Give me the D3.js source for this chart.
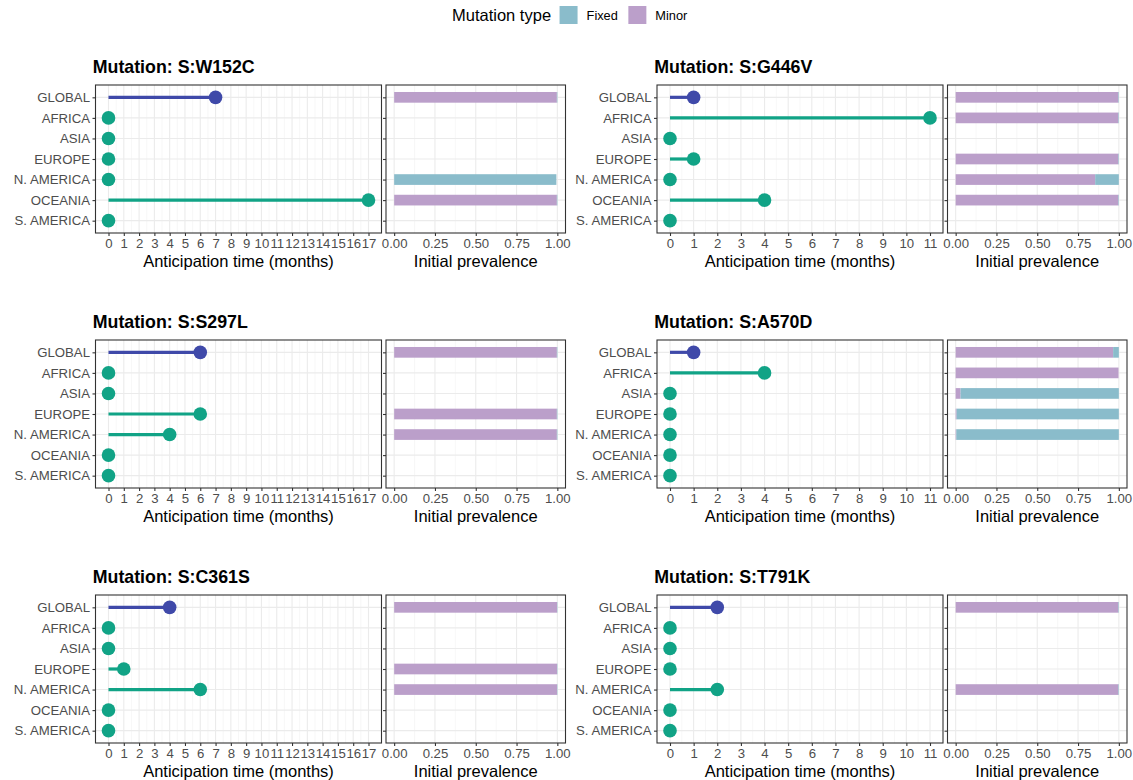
<!DOCTYPE html>
<html>
<head>
<meta charset="utf-8">
<script src="https://cdn.jsdelivr.net/npm/d3@7"></script>
<style>
  body { margin: 0; background: #fff; }
  svg { font-family: "Liberation Sans", Arial, sans-serif; }
</style>
</head>
<body>
<div id="chart"></div>
<script>
// Regions (y categories), top to bottom
const regions = ["GLOBAL", "AFRICA", "ASIA", "EUROPE", "N. AMERICA", "OCEANIA", "S. AMERICA"];

// Mutations in panel order (row by row, left then right)
const mutations = ["S:W152C", "S:G446V", "S:S297L", "S:A570D", "S:C361S", "S:T791K"];

// Anticipation time (months) per region, same order as regions
const antW152C = [7, 0, 0, 0, 0, 17, 0];
const antG446V = [1, 11, 0, 1, 0, 4, 0];
const antS297L = [6, 0, 0, 6, 4, 0, 0];
const antA570D = [1, 4, 0, 0, 0, 0, 0];
const antC361S = [4, 0, 0, 1, 6, 0, 0];
const antT791K = [2, 0, 0, 0, 2, 0, 0];

// Initial prevalence, Minor share per region (null = no bar)
const minorW152C = [0.997, null, null, null, 0, 0.997, null];
const minorG446V = [0.997, 0.997, null, 0.997, 0.855, 0.997, null];
const minorS297L = [0.997, null, null, 0.997, 0.997, null, null];
const minorA570D = [0.965, 0.998, 0.03, 0.006, 0.004, null, null];
const minorC361S = [0.998, null, null, 0.998, 0.998, null, null];
const minorT791K = [0.997, null, null, null, 0.997, null, null];

// Initial prevalence, Fixed share per region
const fixedW152C = [0.003, null, null, null, 0.994, 0.003, null];
const fixedG446V = [0.003, 0.003, null, 0.003, 0.145, 0.003, null];
const fixedS297L = [0.003, null, null, 0.003, 0.003, null, null];
const fixedA570D = [0.035, 0, 0.97, 0.994, 0.996, null, null];
const fixedC361S = [0.002, null, null, 0.002, 0.002, null, null];
const fixedT791K = [0.003, null, null, null, 0.003, null, null];

// x-axis max per column
const columnMax = [17, 11];
const prevalenceTicks = [0, 0.25, 0.5, 0.75, 1];

const antData = [antW152C, antG446V, antS297L, antA570D, antC361S, antT791K];
const minorData = [minorW152C, minorG446V, minorS297L, minorA570D, minorC361S, minorT791K];
const fixedData = [fixedW152C, fixedG446V, fixedS297L, fixedA570D, fixedC361S, fixedT791K];

const typeColors = {Fixed: "#8abccb", Minor: "#bb9fca"};
const globalColor = "#3f49a9";
const regionColor = "#11a386";

const width = 1133, height = 780;
const tickFont = 13.2;

const svg = d3.select("#chart").append("svg")
    .attr("width", width)
    .attr("height", height);

// Legend
const legend = svg.append("g");
const legTitle = legend.append("text")
    .attr("x", 452).attr("y", 20.5)
    .attr("font-size", 16.5).attr("fill", "#000")
    .text("Mutation type");
let lx = 452 + legTitle.node().getComputedTextLength() + 8.5;
["Fixed", "Minor"].forEach(k => {
    legend.append("rect")
        .attr("x", lx).attr("y", 6).attr("width", 18).attr("height", 18)
        .attr("fill", typeColors[k]);
    const t = legend.append("text")
        .attr("x", lx + 27).attr("y", 19.8)
        .attr("font-size", 12.8).attr("fill", "#000")
        .text(k);
    lx += 27 + t.node().getComputedTextLength() + 10.5;
});

// Panel geometry
const colLeft = [95.5, 657];
const dotW = 286, barW = 179.5, gap = 4.5;
const rowTop = [85, 340, 595];
const panelH = 148;

function styleAxis(a) {
    a.select(".domain").remove();
    a.selectAll(".tick line").attr("stroke", "#333").attr("stroke-width", 1.1);
    a.selectAll("text").attr("fill", "#4d4d4d").attr("font-size", tickFont)
        .attr("font-family", "Liberation Sans, Arial, sans-serif");
}

function drawPanel(i) {
    const col = i % 2, row = Math.floor(i / 2);
    const x0 = colLeft[col], y0 = rowTop[row];
    const max = columnMax[col];

    const g = svg.append("g").attr("transform", `translate(${x0},${y0})`);

    // Title
    g.append("text")
        .attr("x", -2.8).attr("y", -11.7)
        .attr("font-size", 17.8).attr("font-weight", "bold").attr("fill", "#000")
        .text("Mutation: " + mutations[i]);

    const y = d3.scalePoint().domain(regions).range([0, panelH]).padding(0.6);

    // ---------- Lollipop panel ----------
    const x = d3.scaleLinear().domain([-max * 0.05, max * 1.05]).range([0, dotW]);
    const dot = g.append("g");

    dot.selectAll(".minor").data(d3.range(0.5, max, 1)).join("line")
        .attr("x1", d => x(d)).attr("x2", d => x(d))
        .attr("y1", 0).attr("y2", panelH)
        .attr("stroke", "#f0f0f0").attr("stroke-width", 0.55);
    dot.selectAll(".majorx").data(d3.range(0, max + 1)).join("line")
        .attr("x1", d => x(d)).attr("x2", d => x(d))
        .attr("y1", 0).attr("y2", panelH)
        .attr("stroke", "#ebebeb").attr("stroke-width", 1.1);
    dot.selectAll(".majory").data(regions).join("line")
        .attr("x1", 0).attr("x2", dotW)
        .attr("y1", d => y(d)).attr("y2", d => y(d))
        .attr("stroke", "#ebebeb").attr("stroke-width", 1.1);

    const pts = regions.map((r, j) => ({region: r, value: antData[i][j]}));
    dot.selectAll(".seg").data(pts).join("line")
        .attr("x1", x(0)).attr("x2", d => x(d.value))
        .attr("y1", d => y(d.region)).attr("y2", d => y(d.region))
        .attr("stroke", d => d.region === "GLOBAL" ? globalColor : regionColor)
        .attr("stroke-width", 3.2);
    dot.selectAll(".pt").data(pts).join("circle")
        .attr("cx", d => x(d.value)).attr("cy", d => y(d.region))
        .attr("r", 6.8)
        .attr("fill", d => d.region === "GLOBAL" ? globalColor : regionColor);

    dot.append("rect")
        .attr("x", 0).attr("y", 0).attr("width", dotW).attr("height", panelH)
        .attr("fill", "none").attr("stroke", "#333").attr("stroke-width", 1.1);

    const xAxis = d3.axisBottom(x).tickValues(d3.range(0, max + 1))
        .tickSize(3).tickPadding(2.5).tickFormat(d3.format("d"));
    styleAxis(dot.append("g").attr("transform", `translate(0,${panelH})`).call(xAxis));
    styleAxis(dot.append("g").call(d3.axisLeft(y).tickSize(3).tickPadding(2.5)));

    dot.append("text")
        .attr("x", dotW / 2).attr("y", panelH + 33.5)
        .attr("text-anchor", "middle").attr("font-size", 16.5).attr("fill", "#000")
        .text("Anticipation time (months)");

    // ---------- Prevalence panel ----------
    const bx = d3.scaleLinear().domain([-0.05, 1.05]).range([0, barW]);
    const bar = g.append("g").attr("transform", `translate(${dotW + gap},0)`);

    bar.selectAll(".minor").data([0.125, 0.375, 0.625, 0.875]).join("line")
        .attr("x1", d => bx(d)).attr("x2", d => bx(d))
        .attr("y1", 0).attr("y2", panelH)
        .attr("stroke", "#f0f0f0").attr("stroke-width", 0.55);
    bar.selectAll(".majorx").data(prevalenceTicks).join("line")
        .attr("x1", d => bx(d)).attr("x2", d => bx(d))
        .attr("y1", 0).attr("y2", panelH)
        .attr("stroke", "#ebebeb").attr("stroke-width", 1.1);
    bar.selectAll(".majory").data(regions).join("line")
        .attr("x1", 0).attr("x2", barW)
        .attr("y1", d => y(d)).attr("y2", d => y(d))
        .attr("stroke", "#ebebeb").attr("stroke-width", 1.1);

    // stacked: Minor from zero, Fixed after it
    const bh = y.step() * 0.52;
    const segs = [];
    regions.forEach((r, j) => {
        const m = minorData[i][j], f = fixedData[i][j];
        if (m === null && f === null) return;
        segs.push({region: r, type: "Minor", start: 0, end: m || 0});
        segs.push({region: r, type: "Fixed", start: m || 0, end: (m || 0) + (f || 0)});
    });
    bar.selectAll(".seg").data(segs.filter(d => d.end > d.start)).join("rect")
        .attr("x", d => bx(d.start)).attr("width", d => bx(d.end) - bx(d.start))
        .attr("y", d => y(d.region) - bh / 2).attr("height", bh)
        .attr("fill", d => typeColors[d.type]);

    bar.append("rect")
        .attr("x", 0).attr("y", 0).attr("width", barW).attr("height", panelH)
        .attr("fill", "none").attr("stroke", "#333").attr("stroke-width", 1.1);

    const bxAxis = d3.axisBottom(bx).tickValues(prevalenceTicks)
        .tickSize(3).tickPadding(2.5).tickFormat(d3.format(".2f"));
    styleAxis(bar.append("g").attr("transform", `translate(0,${panelH})`).call(bxAxis));
    styleAxis(bar.append("g").call(d3.axisLeft(y).tickSize(3).tickFormat("")));

    bar.append("text")
        .attr("x", barW / 2).attr("y", panelH + 33.5)
        .attr("text-anchor", "middle").attr("font-size", 16.5).attr("fill", "#000")
        .text("Initial prevalence");
}

mutations.forEach((m, i) => drawPanel(i));
</script>
</body>
</html>
